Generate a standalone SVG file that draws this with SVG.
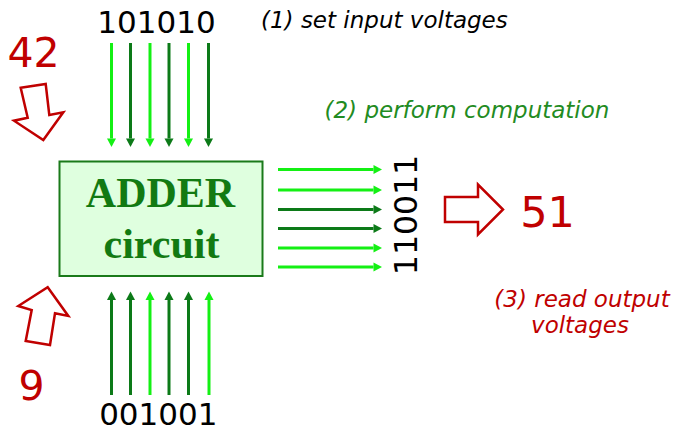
<svg xmlns="http://www.w3.org/2000/svg" width="675" height="431" viewBox="0 0 675 431">
<style>
.bits{font-family:"DejaVu Sans",Verdana,sans-serif;font-size:31px;fill:#000}
.num{font-family:"DejaVu Sans",Verdana,sans-serif;font-size:41px;fill:#c00000}
.note{font-family:"DejaVu Sans",Verdana,sans-serif;font-size:23px;font-style:italic}
.big{font-family:"Liberation Serif","Times New Roman",serif;font-weight:bold;font-size:42px;fill:#127a12;text-anchor:middle}
.hi{stroke:#14f014;stroke-width:3;fill:none}
.lo{stroke:#0c7a18;stroke-width:3;fill:none}
.hollow{fill:#fff;stroke:#c00000;stroke-width:2.5;stroke-linejoin:miter}
</style>
<defs>
<marker id="mh" markerUnits="userSpaceOnUse" markerWidth="9" markerHeight="9" refX="0" refY="4.5" orient="auto" overflow="visible">
<path d="M0,0 L8.5,4.5 L0,9 Z" fill="#14f014"/>
</marker>
<marker id="ml" markerUnits="userSpaceOnUse" markerWidth="9" markerHeight="9" refX="0" refY="4.5" orient="auto" overflow="visible">
<path d="M0,0 L8.5,4.5 L0,9 Z" fill="#0c7a18"/>
</marker>
</defs>

<g id="adder">
<rect x="59.5" y="161.5" width="203" height="114.5" fill="#dfffdf" stroke="#1a7a1a" stroke-width="2"/>
<text class="big" x="160.5" y="206.5">ADDER</text>
<text class="big" x="161.5" y="258">circuit</text>
</g>

<g id="connectors">
<g id="input-a">
<line class="hi" x1="111.5" y1="43" x2="111.5" y2="138.5" marker-end="url(#mh)"/>
<line class="lo" x1="130.5" y1="43" x2="130.5" y2="138.5" marker-end="url(#ml)"/>
<line class="hi" x1="150" y1="43" x2="150" y2="138.5" marker-end="url(#mh)"/>
<line class="lo" x1="169" y1="43" x2="169" y2="138.5" marker-end="url(#ml)"/>
<line class="hi" x1="188.5" y1="43" x2="188.5" y2="138.5" marker-end="url(#mh)"/>
<line class="lo" x1="208.5" y1="43" x2="208.5" y2="138.5" marker-end="url(#ml)"/>
</g>
<g id="input-b">
<line class="lo" x1="111.5" y1="395" x2="111.5" y2="300" marker-end="url(#ml)"/>
<line class="lo" x1="130.5" y1="395" x2="130.5" y2="300" marker-end="url(#ml)"/>
<line class="hi" x1="150" y1="395" x2="150" y2="300" marker-end="url(#mh)"/>
<line class="lo" x1="169" y1="395" x2="169" y2="300" marker-end="url(#ml)"/>
<line class="lo" x1="188.5" y1="395" x2="188.5" y2="300" marker-end="url(#ml)"/>
<line class="hi" x1="209" y1="395" x2="209" y2="300" marker-end="url(#mh)"/>
</g>
<g id="output">
<line class="hi" x1="278" y1="169.5" x2="373.5" y2="169.5" marker-end="url(#mh)"/>
<line class="hi" x1="278" y1="190" x2="373.5" y2="190" marker-end="url(#mh)"/>
<line class="lo" x1="278" y1="209.5" x2="373.5" y2="209.5" marker-end="url(#ml)"/>
<line class="lo" x1="278" y1="228.5" x2="373.5" y2="228.5" marker-end="url(#ml)"/>
<line class="hi" x1="278" y1="248" x2="373.5" y2="248" marker-end="url(#mh)"/>
<line class="hi" x1="278" y1="267" x2="373.5" y2="267" marker-end="url(#mh)"/>
</g>
</g>

<g id="bits-a"><text class="bits" x="156.5" y="33" text-anchor="middle">101010</text></g>
<g id="bits-b"><text class="bits" x="158.3" y="425" text-anchor="middle">001001</text></g>
<g id="bits-out"><text class="bits" transform="translate(416.5,215) rotate(-90)" x="0" y="0" text-anchor="middle" style="font-size:31.5px">110011</text></g>

<g id="value-a">
<text class="num" x="33.5" y="66.5" text-anchor="middle">42</text>
<polygon class="hollow" points="20.7,87.7 45.7,84 49.3,115 63.3,112.3 43.3,140 14,120.7 27.7,117.7"/>
</g>
<g id="value-b">
<text class="num" x="31.5" y="400" text-anchor="middle">9</text>
<polygon class="hollow" points="47.7,287.3 68.3,316 55,313.3 50,345 25.7,341 31.7,310 18.3,306"/>
</g>
<g id="value-out">
<polygon class="hollow" points="445,197 478,197 478,184.5 503,209.5 478,234.5 478,222 445,222"/>
<text class="num" x="547.5" y="226.7" text-anchor="middle" style="font-size:43px">51</text>
</g>

<g id="notes">
<text class="note" x="261" y="28" fill="#000">(1) set input voltages</text>
<text class="note" x="324.5" y="118" fill="#228b22">(2) perform computation</text>
<text class="note" x="582" y="306.5" fill="#c00000" text-anchor="middle">(3) read output</text>
<text class="note" x="580" y="333" fill="#c00000" text-anchor="middle">voltages</text>
</g>
</svg>
